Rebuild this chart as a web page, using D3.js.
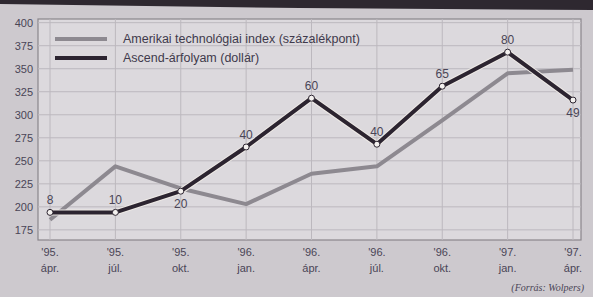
<!DOCTYPE html>
<html>
<head>
<meta charset="utf-8">
<script src="https://cdn.jsdelivr.net/npm/d3@7"></script>
<style>
  body { margin: 0; background: #cdc9ce; }
  svg { display: block; font-family: "Liberation Sans", Arial, sans-serif; }
</style>
</head>
<body>
<svg id="chart" width="593" height="297"></svg>
<script>
// quarters on the x axis
const years = ["'95.", "'95.", "'95.", "'96.", "'96.", "'96.", "'96.", "'97.", "'97."];
const months = ["ápr.", "júl.", "okt.", "jan.", "ápr.", "júl.", "okt.", "jan.", "ápr."];

// American tech index (percent points)
const techIndex = [186, 244, 220, 203, 236, 244, 294, 345, 349];
// Ascend line as drawn on the chart, and the dollar prices written on it
const ascendLine = [194, 194, 217, 265, 318, 268, 331, 368, 316];
const ascendPrice = [8, 10, 20, 40, 60, 40, 65, 80, 49];
const priceBelow = [false, false, true, false, false, false, false, false, true];

const yTicks = [175, 200, 225, 250, 275, 300, 325, 350, 375, 400];

const svg = d3.select("#chart");

// dark strip at the top of the photo
svg.append("path")
  .attr("d", "M0,0 L593,0 L593,10 L300,8 L0,4 Z")
  .attr("fill", "#2e2830");

const plotL = 38, plotR = 581, plotT = 19, plotB = 240;

svg.append("rect")
  .attr("x", plotL).attr("y", plotT)
  .attr("width", plotR - plotL).attr("height", plotB - plotT)
  .attr("fill", "#dcd9dd")
  .attr("stroke", "#8a868c")
  .attr("stroke-width", 1.2);

const x = d3.scalePoint()
  .domain(d3.range(months.length))
  .range([50, 573]);

const y = d3.scaleLinear()
  .domain([164, 404])
  .range([plotB, plotT]);

// horizontal grid
svg.selectAll("line.hgrid")
  .data(yTicks)
  .enter()
  .append("line")
  .attr("class", "hgrid")
  .attr("x1", plotL).attr("x2", plotR)
  .attr("y1", d => y(d)).attr("y2", d => y(d))
  .attr("stroke", "#bcb8be")
  .attr("stroke-width", 1);

// vertical grid
svg.selectAll("line.vgrid")
  .data(d3.range(months.length))
  .enter()
  .append("line")
  .attr("class", "vgrid")
  .attr("x1", d => x(d)).attr("x2", d => x(d))
  .attr("y1", plotT).attr("y2", plotB)
  .attr("stroke", "#bcb8be")
  .attr("stroke-width", 1);

// y axis labels
svg.selectAll("text.ylab")
  .data(yTicks)
  .enter()
  .append("text")
  .attr("class", "ylab")
  .attr("x", 33)
  .attr("y", d => y(d) + 4)
  .attr("text-anchor", "end")
  .attr("font-size", 11)
  .attr("fill", "#4a4556")
  .text(d => d);

// x axis labels, two lines
const xl = svg.selectAll("text.xlab")
  .data(d3.range(months.length))
  .enter()
  .append("text")
  .attr("class", "xlab")
  .attr("text-anchor", "middle")
  .attr("font-size", 11)
  .attr("fill", "#4a4556");
xl.append("tspan")
  .attr("x", d => x(d)).attr("y", 256)
  .text(d => years[d]);
xl.append("tspan")
  .attr("x", d => x(d)).attr("y", 272)
  .text(d => months[d]);

const line = d3.line()
  .x((d, i) => x(i))
  .y(d => y(d));

svg.append("path")
  .datum(techIndex)
  .attr("d", line)
  .attr("fill", "none")
  .attr("stroke", "#8d8990")
  .attr("stroke-width", 4)
  .attr("stroke-linejoin", "round");

// light halo then dark line
svg.append("path")
  .datum(ascendLine)
  .attr("d", line)
  .attr("fill", "none")
  .attr("stroke", "#eeeae6")
  .attr("stroke-width", 6)
  .attr("stroke-linejoin", "round");
svg.append("path")
  .datum(ascendLine)
  .attr("d", line)
  .attr("fill", "none")
  .attr("stroke", "#2c2430")
  .attr("stroke-width", 4)
  .attr("stroke-linejoin", "round");

svg.selectAll("circle.pt")
  .data(ascendLine)
  .enter()
  .append("circle")
  .attr("class", "pt")
  .attr("cx", (d, i) => x(i))
  .attr("cy", d => y(d))
  .attr("r", 3)
  .attr("fill", "#f4f1ef")
  .attr("stroke", "#2c2430")
  .attr("stroke-width", 1);

svg.selectAll("text.price")
  .data(ascendLine)
  .enter()
  .append("text")
  .attr("class", "price")
  .attr("x", (d, i) => x(i))
  .attr("y", (d, i) => priceBelow[i] ? y(d) + 17 : y(d) - 8)
  .attr("text-anchor", "middle")
  .attr("font-size", 12)
  .attr("fill", "#4a4556")
  .text((d, i) => ascendPrice[i]);

// legend
const legend = [
  { label: "Amerikai technológiai index (százalékpont)", color: "#8d8990", yy: 39 },
  { label: "Ascend-árfolyam (dollár)", color: "#2c2430", yy: 58 }
];
legend.forEach(l => {
  svg.append("line")
    .attr("x1", 55).attr("x2", 107)
    .attr("y1", l.yy).attr("y2", l.yy)
    .attr("stroke", l.color)
    .attr("stroke-width", 4);
  svg.append("text")
    .attr("x", 123).attr("y", l.yy + 4)
    .attr("font-size", 12.5)
    .attr("fill", "#3f3a4c")
    .text(l.label);
});

svg.append("text")
  .attr("x", 584).attr("y", 291)
  .attr("text-anchor", "end")
  .attr("font-size", 10)
  .attr("font-style", "italic")
  .attr("font-family", "Liberation Serif, serif")
  .attr("fill", "#4a4556")
  .text("(Forrás: Wolpers)");
</script>
</body>
</html>
